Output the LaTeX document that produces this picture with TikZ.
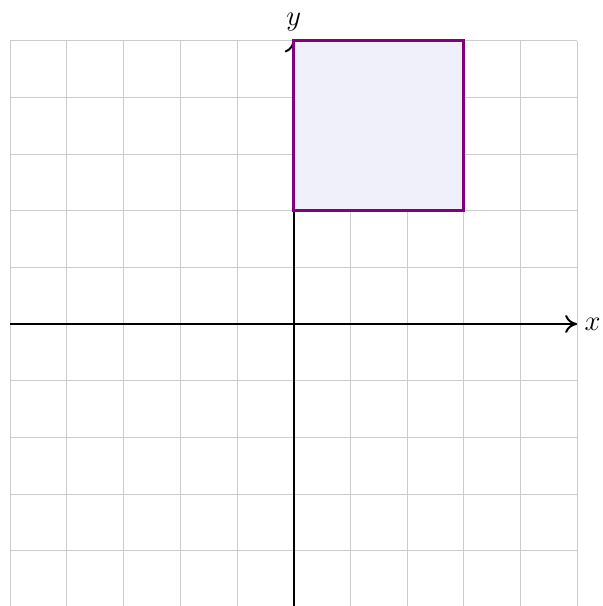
\documentclass[tikz,border=0pt]{standalone}
\usetikzlibrary{arrows.meta}
\definecolor{sqpurple}{RGB}{128,0,128}
\definecolor{sqfill}{RGB}{240,240,250}
\begin{document}
\begin{tikzpicture}[x=1cm,y=1cm,
  gridline/.style={gray!40,line width=0.4pt},
  axisline/.style={black,line width=1pt,-{Computer Modern Rightarrow[length=6pt,width=9pt]}},
  axislabel/.style={font=\Large},
  squarebox/.style={draw=sqpurple,fill=sqfill,line width=1.5pt}]
\useasboundingbox (-5.18,-4.975) rectangle (5.455,5.715);
\draw[gridline] (-5,-5) grid (5,5);
\draw[axisline] (-5,0) -- (5,0) node[right,axislabel] (xl) {$x$};
\draw[axisline] (0,-5) -- (0,5) node[above=1pt,axislabel] (yl) {$y$};
\draw[squarebox] (0,2) rectangle (3,5);
\end{tikzpicture}
\end{document}
